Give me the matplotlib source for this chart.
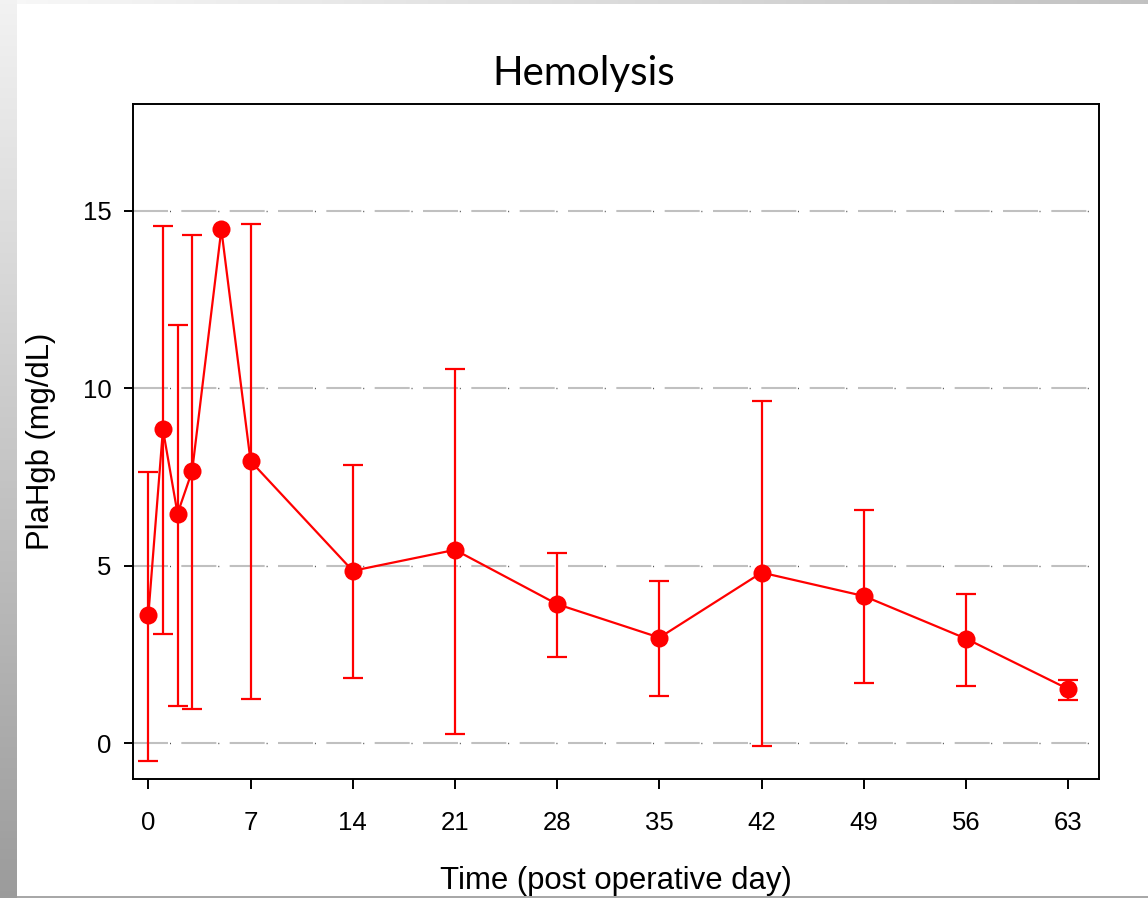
import numpy as np
import matplotlib
matplotlib.use("Agg")
import matplotlib.pyplot as plt

plt.rcParams['font.family'] = ['Liberation Sans', 'DejaVu Sans']
plt.rcParams['lines.scale_dashes'] = False

# Data (mean, lower and upper end of the error bar)
days = [0, 1, 2, 3, 5, 7, 14, 21, 28, 35, 42, 49, 56, 63]
plahgb = [3.61, 8.84, 6.47, 7.67, 14.47, 7.95, 4.86, 5.45, 3.92, 2.98, 4.81, 4.15, 2.95, 1.53]
err_low = [-0.49, 3.07, 1.06, 0.96, np.nan, 1.25, 1.83, 0.26, 2.44, 1.34, -0.08, 1.70, 1.62, 1.22]
err_high = [7.64, 14.56, 11.79, 14.30, np.nan, 14.61, 7.84, 10.53, 5.35, 4.56, 9.64, 6.56, 4.22, 1.79]

x_ticks = [0, 7, 14, 21, 28, 35, 42, 49, 56, 63]
y_ticks = [0, 5, 10, 15]

W, H = 1148, 898
fig = plt.figure(figsize=(W / 100, H / 100), dpi=100)
fig.patch.set_facecolor('white')

# slide decoration: gray gradient strip on the left, thin one on top, line at bottom
left = fig.add_axes([0, 0, 17 / W, 1])
grad = np.linspace(0.95, 0.61, 256).reshape(-1, 1)
left.imshow(np.dstack([grad] * 3), aspect='auto', extent=[0, 1, 0, 1])
left.set_axis_off()

top = fig.add_axes([17 / W, 1 - 4 / H, 1 - 17 / W, 4 / H])
grad = np.linspace(0.97, 0.76, 256).reshape(1, -1)
top.imshow(np.dstack([grad] * 3), aspect='auto', extent=[0, 1, 0, 1])
top.set_axis_off()

bottom = fig.add_axes([17 / W, 0, 1 - 17 / W, 2 / H])
bottom.set_facecolor('#a8a8a8')
bottom.set_xticks([])
bottom.set_yticks([])
for s in bottom.spines.values():
    s.set_visible(False)

# main axes
ax = fig.add_axes([133 / W, 1 - 779 / H, 966 / W, 675 / H])

d = np.array(days, dtype=float)
m = np.array(plahgb)
lo = np.array(err_low)
hi = np.array(err_high)
has_bar = ~np.isnan(lo)

for yv in y_ticks:
    ax.axhline(yv, color='#c0c0c0', linewidth=1.5, linestyle=(0, (25.2, 9.6)), zorder=1)
    ax.axhline(yv, color='#505050', linewidth=1.0, linestyle=(8.5, (0.72, 34.06)), zorder=1)

ax.errorbar(d[has_bar], m[has_bar],
            yerr=[m[has_bar] - lo[has_bar], hi[has_bar] - m[has_bar]],
            fmt='none', ecolor='#ff0000', elinewidth=1.6, capsize=7, capthick=1.6, zorder=3)
ax.plot(d, m, color='#ff0000', linewidth=1.6, marker='o', markersize=13,
        markeredgewidth=0, zorder=4)

ax.set_xlim(-1.05, 65.1)
ax.set_ylim(-1.0, 18.0)
ax.set_xticks(x_ticks)
ax.set_yticks(y_ticks)
ax.tick_params(axis='x', direction='out', length=7, width=1.4, pad=16, labelsize=18.5)
ax.tick_params(axis='y', direction='out', length=6.5, width=1.4, pad=9, labelsize=18.5)

for s in ax.spines.values():
    s.set_linewidth(1.4)

ax.set_xlabel('Time (post operative day)', fontsize=22.4)
ax.xaxis.set_label_coords(0.5, -0.129)
ax.set_ylabel('PlaHgb (mg/dL)', fontsize=22.4)
ax.yaxis.set_label_coords(-0.0797, 0.5)

fig.text(584 / W, 1 - 85 / H, 'Hemolysis', ha='center', va='baseline',
         fontsize=29, family=['Lato', 'DejaVu Sans'])

fig.savefig('out.png', dpi=100)
